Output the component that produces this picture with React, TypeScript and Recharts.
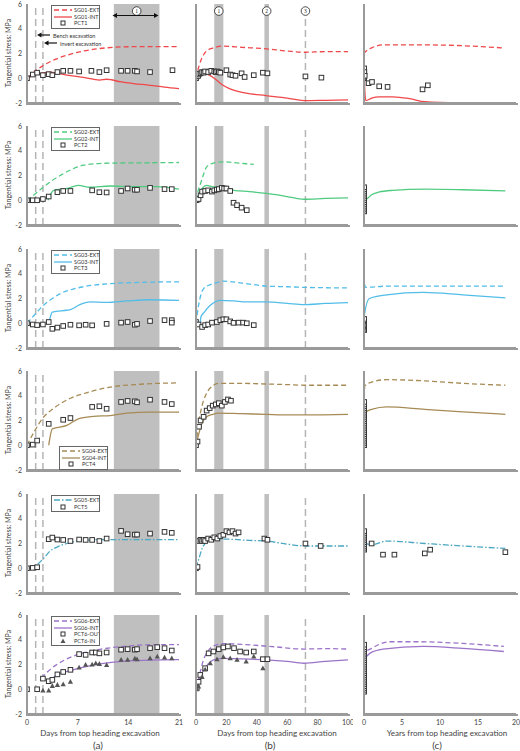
import React from 'react'
import {
  ComposedChart,
  Line,
  Scatter,
  XAxis,
  YAxis,
  ReferenceArea,
  ReferenceLine,
  ReferenceDot,
} from 'recharts'

type P = [number, number]

// ---- column (a): days 0-21
const a_ext1: P[] = [[0,0],[1,0.5],[2.3,1.05],[4,1.55],[5.5,1.86],[7.8,2.2],[10,2.4],[14.7,2.55],[21,2.55]]
const a_int1: P[] = [[0,0],[1.5,0.35],[3.2,0.5],[5.5,0.25],[8,0.05],[10,-0.15],[11,-0.08],[13,-0.3],[14.7,-0.43],[17,-0.57],[19,-0.72],[21,-0.84]]
const a_pct1: P[] = [[0,0],[0.8,0.3],[1.4,0.45],[2.2,0.25],[3,0.33],[3.5,0.25],[4.2,0.5],[5,0.6],[6,0.6],[7.2,0.55],[8.9,0.6],[10,0.5],[11,0.65],[13,0.6],[13.9,0.6],[14.9,0.6],[15.2,0.55],[17,0.5],[20.1,0.65]]

const a_ext2: P[] = [[0,0],[1,0.45],[2.3,1.07],[3.5,1.6],[4.6,2.0],[6,2.45],[7.8,2.83],[9.5,2.95],[11.5,3.0],[15,3.02],[21,3.05]]
const a_int2: P[] = [[2.9,0],[3.1,0.3],[3.7,0.8],[5.5,0.95],[7.1,1.2],[8.7,1.05],[11.5,1.15],[14.7,1.1],[17.9,1.1],[21,0.9]]
const a_pct2: P[] = [[0,0],[0.8,0],[1.4,0],[2.2,0.1],[3,0.3],[4.2,0.65],[5,0.75],[6,0.75],[9,0.8],[10,0.65],[11,0.63],[13,0.75],[13.9,0.95],[14.9,0.85],[15.2,0.85],[17,1.0],[19,0.9],[20,0.9]]

const a_ext3: P[] = [[0,0],[1,0.65],[2.3,1.46],[3.5,2.0],[4.6,2.4],[6,2.7],[7.8,2.95],[9.5,3.1],[11.5,3.2],[15.6,3.3],[21,3.35]]
const a_int3: P[] = [[2.9,0],[3.0,0.1],[3.5,0.9],[5.5,1.05],[6,1.1],[7.3,1.5],[8.7,1.72],[11,1.68],[13.8,1.8],[17,1.9],[21,1.85]]
const a_pct3: P[] = [[0,0],[0.8,-0.1],[1.4,-0.15],[2.2,-0.1],[3,0.1],[3.5,-0.45],[4.2,-0.35],[5,-0.22],[6,-0.12],[7.2,-0.17],[8.1,-0.12],[9,-0.17],[11,-0.05],[13,0.05],[13.9,0.1],[14.9,-0.12],[15.2,-0.05],[17,0.18],[19,0.25],[20,0.25],[20,0.05]]

const a_ext4: P[] = [[0,0],[1,1.1],[2.3,2.28],[3.5,2.9],[4.6,3.36],[6,3.8],[7.8,4.17],[9.5,4.45],[11.5,4.7],[15.6,4.93],[21,5.04]]
const a_int4: P[] = [[3,0],[3.5,1.33],[5.5,1.6],[7.1,2.14],[9.2,2.33],[11.5,2.4],[13.8,2.6],[17,2.68],[21,2.68]]
const a_pct4: P[] = [[0,0],[0.8,0.05],[1.4,0.38],[3,1.73],[5,2.06],[6,2.2],[9,3.1],[10,3.15],[11,2.95],[13,3.5],[13.9,3.58],[14.9,3.55],[15.2,3.47],[17,3.68],[19,3.5],[20,3.33]]

const a_ext5: P[] = [[0,0],[1.4,0.3],[2.3,0.8],[3.2,1.4],[4.3,1.75],[5.5,2.0],[7.8,2.26],[11,2.32],[21,2.32]]
const a_pct5: P[] = [[0,0],[0.8,0.03],[1.4,0.08],[3,2.35],[3.5,2.48],[4.2,2.32],[5,2.29],[6,2.2],[7.2,2.32],[8.1,2.29],[9,2.29],[10,2.2],[11,2.4],[13,3.02],[13.9,2.75],[14.9,2.72],[15.2,2.72],[17,2.8],[19,2.94],[20,2.86]]

const a_ext6: P[] = [[2,0.9],[3,1.5],[4,1.95],[5,2.3],[7,2.8],[9,3.1],[11.5,3.35],[14,3.5],[17,3.6],[21,3.6]]
const a_int6: P[] = [[3,0.6],[4,1.1],[6,1.5],[8,1.8],[10,2.05],[12,2.2],[14,2.3],[17,2.35],[21,2.4]]
const a_out6: P[] = [[0,0],[1.4,0],[2.2,0.86],[3,0.65],[3.5,0.76],[4.2,1.2],[5,1.4],[6,1.57],[7.2,2.84],[8.1,2.78],[9,2.97],[9.5,2.97],[10,2.9],[11,2.97],[13,3.2],[13.9,3.24],[14.9,3.2],[15.2,3.24],[17,3.32],[18,3.4],[19,3.32],[20,3.13]]
const a_in6: P[] = [[2.2,-0.1],[3,-0.1],[3.5,0.27],[4.2,0.35],[5,0.4],[6,0.6],[7.2,1.75],[8.1,1.97],[9,2.0],[9.5,2.1],[10,2.05],[11,1.95],[13,2.38],[13.9,2.38],[14.9,2.48],[15.2,2.43],[17,2.5],[18,2.65],[19,2.57],[20,2.5]]

// ---- column (b): days 0-100
const b_ext1: P[] = [[0,0],[2,1.0],[5,1.9],[8,2.3],[11.5,2.45],[18,2.6],[30,2.5],[44,2.4],[60,2.2],[71,2.1],[85,2.15],[100,2.15]]
const b_int1: P[] = [[0,0.3],[3,0.5],[7,0.35],[12,0],[17,-0.5],[22,-0.84],[33,-1.2],[46,-1.4],[60,-1.6],[71,-1.8],[85,-1.78],[100,-1.75]]
const b_pct1: P[] = [[0,0],[0.5,0.15],[1,0.3],[1.5,0.2],[2,0.35],[3,0.4],[4,0.5],[5,0.45],[6,0.55],[8,0.5],[10,0.6],[12,0.55],[13,0.5],[14,0.55],[15,0.5],[16,0.45],[20,0.65],[22.5,0.3],[24,0.25],[26,0.2],[30,0.4],[32,0.1],[38,0.25],[44,0.45],[47,0.4],[72,0.15],[82.5,0.05]]

const b_ext2: P[] = [[0,0],[1.5,0.8],[3,1.35],[5,2.1],[7,2.7],[11.5,3.0],[18,3.1],[28,3.0],[38,2.9]]
const b_int2: P[] = [[0,0],[2,0.5],[4,0.95],[7,1.2],[11.5,1.08],[18,1.08],[25,0.8],[35,0.7],[46.5,0.55],[60,0.3],[71,0.08],[85,0.15],[100,0.2]]
const b_pct2: P[] = [[0,0],[1,0.05],[1.7,0.1],[3,0.4],[4,0.7],[6,0.75],[8,0.8],[10.5,0.7],[12,0.8],[13.7,0.86],[15,0.9],[17,1.0],[18.5,0.95],[20,0.95],[22.5,0.75],[24.7,-0.2],[27,-0.4],[30,-0.6],[33.4,-0.8]]

const b_ext3: P[] = [[0,0],[1.7,1.45],[3,2.2],[5,2.8],[8,3.05],[11.5,3.2],[18,3.4],[30,3.25],[46.5,3.0],[60,2.95],[71,2.9],[85,2.87],[100,2.85]]
const b_int3: P[] = [[2.8,0],[3.2,0.5],[5.5,0.9],[9.4,1.45],[16,1.85],[25,1.8],[33,1.72],[46.5,1.72],[60,1.6],[71,1.5],[85,1.6],[100,1.67]]
const b_pct3: P[] = [[0,0.1],[1.7,-0.1],[4,-0.3],[6,-0.15],[8,-0.1],[10.5,0.05],[13.7,0.1],[16,0.25],[18,0.32],[20,0.32],[22.5,0.15],[24.7,0.03],[28,0.05],[31,0.05],[33.4,0],[38,-0.15]]

const b_ext4: P[] = [[0,0],[2,2.0],[4,3.2],[7,4.2],[11,4.8],[15,5.0],[30,5.0],[46,4.95],[60,4.9],[72,4.85],[100,4.85]]
const b_int4: P[] = [[0,0],[2,1.0],[4,1.8],[7,2.3],[11,2.5],[15,2.6],[30,2.55],[46,2.5],[60,2.45],[72,2.45],[100,2.5]]
const b_pct4: P[] = [[0,0],[1,0.3],[2,1.5],[3,2.0],[5,2.3],[7,2.8],[9,3.0],[11,3.2],[13,3.3],[15,3.4],[17,3.2],[19,3.5],[21,3.7],[23,3.6]]

const b_ext5: P[] = [[0,0],[2,0.8],[4,1.6],[7,2.1],[10,2.3],[20,2.35],[35,2.25],[46,2.2],[60,1.95],[72,1.8],[100,1.8]]
const b_pct5: P[] = [[0,0],[1,0.1],[2,2.2],[3,2.3],[4,2.2],[5,2.3],[6,2.2],[8,2.4],[10,2.3],[12,2.5],[14,2.4],[16,2.6],[18,2.7],[20,3.0],[22,2.9],[24,3.0],[26,2.8],[28,2.9],[45,2.4],[47,2.3],[72,2.0],[82,1.8]]

const b_ext6: P[] = [[0,0],[2,1.0],[5,2.4],[8,3.1],[11.5,3.5],[18,3.68],[33,3.6],[50,3.45],[71,3.25],[85,3.28],[100,3.25]]
const b_int6: P[] = [[0,0],[2,0.7],[5,1.57],[8,2.05],[11.5,2.38],[18,2.5],[30,2.45],[46.5,2.38],[60,2.25],[71,2.1],[85,2.25],[100,2.38]]
const b_out6: P[] = [[0.5,0.1],[1.7,0.6],[2.8,1.16],[6,1.7],[8.3,2.9],[11.5,3.05],[15,3.24],[18,3.38],[21,3.46],[25,3.32],[29,3.05],[33,2.97],[38,3.05],[44,2.43],[47,2.43]]
const b_in6: P[] = [[0.5,0],[1.7,0.22],[4,1.0],[6,1.6],[9.4,2.1],[13.8,2.43],[18,2.6],[22.5,2.5],[27,2.38],[33,2.24],[38,2.65],[44,1.7]]

// ---- column (c): years 0-20
const c_ext1: P[] = [[0,0],[0.03,2.0],[0.3,2.2],[1,2.45],[2.5,2.7],[7,2.7],[12,2.65],[18.4,2.45]]
const c_int1: P[] = [[0,0.3],[0.03,0.4],[0.1,-1.0],[0.25,-1.8],[1,-1.6],[2,-1.5],[3.8,-1.5],[6,-1.65],[8,-1.9],[12.6,-2.0]]
const c_pct1: P[] = [[0.02,0],[0.02,0.1],[0.02,0.2],[0.02,0.3],[0.02,0.4],[0.02,0.5],[0.02,0.6],[0.02,0.7],[0.02,0.8],[0.05,0.5],[0.1,0.2],[0.6,-0.4],[1.05,-0.3],[2,-0.65],[3.1,-0.7],[7.7,-0.9],[8.4,-0.57]]

const c_ext2: P[] = [[0,0],[0.01,2.0],[0.03,3.0],[0.1,2.9]]
const c_int2: P[] = [[0,0],[0.02,1.0],[0.1,0.3],[0.3,0.1],[1,0.45],[2,0.67],[3.8,0.8],[8,0.9],[13,0.85],[18.6,0.75]]
const c_pct2: P[] = [[0.02,-0.9],[0.02,-0.75],[0.02,-0.6],[0.02,-0.45],[0.02,-0.3],[0.02,-0.15],[0.02,0],[0.02,0.15],[0.02,0.3],[0.02,0.45],[0.02,0.6],[0.02,0.75],[0.02,0.9],[0.02,1.05]]

const c_ext3: P[] = [[0,0],[0.01,2.0],[0.03,3.2],[0.2,2.9],[3,3.0],[10,3.0],[18.6,3.0]]
const c_int3: P[] = [[0,0],[0.05,0.65],[0.7,2.0],[3,2.3],[7.8,2.5],[13,2.3],[18.6,2.05]]
const c_pct3: P[] = [[0.02,-0.55],[0.02,-0.45],[0.02,-0.35],[0.02,-0.25],[0.02,-0.15],[0.02,-0.05],[0.02,0.05],[0.02,0.15],[0.02,0.25],[0.02,0.35]]

const c_ext4: P[] = [[0,0],[0.02,3.0],[0.1,4.8],[1,5.1],[3,5.3],[8,5.2],[13,5.0],[18.6,4.85]]
const c_int4: P[] = [[0,0],[0.05,2.0],[0.3,2.7],[1,2.9],[3,3.1],[8,2.9],[13,2.7],[18.6,2.5]]
const c_pct4: P[] = [[0.02,0],[0.02,0.15],[0.02,0.3],[0.02,0.45],[0.02,0.6],[0.02,0.75],[0.02,0.9],[0.02,1.05],[0.02,1.2],[0.02,1.35],[0.02,1.5],[0.02,1.65],[0.02,1.8],[0.02,1.95],[0.02,2.1],[0.02,2.25],[0.02,2.4],[0.02,2.55],[0.02,2.7],[0.02,2.85],[0.02,3.0],[0.02,3.15],[0.02,3.3],[0.02,3.5]]

const c_ext5: P[] = [[0,0],[0.1,2.0],[1,1.9],[3,2.2],[8,2.0],[13,1.8],[18.6,1.6]]
const c_pct5: P[] = [[0.02,1.5],[0.02,1.65],[0.02,1.8],[0.02,1.95],[0.02,2.1],[0.02,2.25],[0.02,2.4],[0.02,2.55],[0.02,2.7],[0.02,2.85],[0.02,3.0],[1,2.0],[2.5,1.1],[4,1.1],[8,1.2],[8.7,1.5],[18.6,1.3]]

const c_ext6: P[] = [[0,0],[0.05,2.9],[1,3.3],[3.4,3.84],[7,3.84],[13,3.7],[18.4,3.46]]
const c_int6: P[] = [[0,0],[0.05,2.3],[0.75,2.9],[2.5,3.24],[7.8,3.46],[13,3.3],[18.4,3.05]]
const c_pct6: P[] = [[0.02,-0.2],[0.02,-0.05],[0.02,0.1],[0.02,0.25],[0.02,0.4],[0.02,0.55],[0.02,0.7],[0.02,0.85],[0.02,1.0],[0.02,1.15],[0.02,1.3],[0.02,1.45],[0.02,1.6],[0.02,1.75],[0.02,1.9],[0.02,2.05],[0.02,2.2],[0.02,2.35],[0.02,2.5],[0.02,2.65],[0.02,2.8],[0.02,2.95],[0.02,3.1],[0.02,3.25],[0.02,3.4],[0.02,3.6]]

const xTicksA = [0, 7, 14, 21]
const xTicksB = [0, 20, 40, 60, 80, 100]
const xTicksC = [0, 5, 10, 15, 20]
const yTicks = [-2, 0, 2, 4, 6]

const RED = '#f0474a'
const GREEN = '#4fcb80'
const CYAN = '#52bde8'
const BROWN = '#a68b55'
const TEAL = '#4aa7c2'
const PURPLE = '#9b73c9'
const AXIS = '#9a9a9a'

const ROW_TOPS = [4, 126, 249, 371, 494, 615]
const PLOT_W = 152
const PLOT_H = 99
const AX_W = 26
const PAD_R = 5
const PAD_T = 5

const COLS = [
  { left: 27, domain: [0, 21], ticks: xTicksA, bands: [[12, 18.3]], vlines: [1.2, 2.2] },
  { left: 196, domain: [0, 100], ticks: xTicksB, bands: [[12, 18], [45, 48]], vlines: [72] },
  { left: 364, domain: [0, 20], ticks: xTicksC, bands: [], vlines: [] },
]

type Series = { pts: P[]; kind: 'ext' | 'int' | 'dashdot' | 'sq' | 'tri'; color?: string }

const toRows = (pts: P[]) => pts.map(([x, y]) => ({ x, y }))

const GRID: Series[][][] = [
  [
    [{ pts: a_ext1, kind: 'ext', color: RED }, { pts: a_int1, kind: 'int', color: RED }, { pts: a_pct1, kind: 'sq' }],
    [{ pts: b_ext1, kind: 'ext', color: RED }, { pts: b_int1, kind: 'int', color: RED }, { pts: b_pct1, kind: 'sq' }],
    [{ pts: c_ext1, kind: 'ext', color: RED }, { pts: c_int1, kind: 'int', color: RED }, { pts: c_pct1, kind: 'sq' }],
  ],
  [
    [{ pts: a_ext2, kind: 'ext', color: GREEN }, { pts: a_int2, kind: 'int', color: GREEN }, { pts: a_pct2, kind: 'sq' }],
    [{ pts: b_ext2, kind: 'ext', color: GREEN }, { pts: b_int2, kind: 'int', color: GREEN }, { pts: b_pct2, kind: 'sq' }],
    [{ pts: c_ext2, kind: 'ext', color: GREEN }, { pts: c_int2, kind: 'int', color: GREEN }, { pts: c_pct2, kind: 'sq' }],
  ],
  [
    [{ pts: a_ext3, kind: 'ext', color: CYAN }, { pts: a_int3, kind: 'int', color: CYAN }, { pts: a_pct3, kind: 'sq' }],
    [{ pts: b_ext3, kind: 'ext', color: CYAN }, { pts: b_int3, kind: 'int', color: CYAN }, { pts: b_pct3, kind: 'sq' }],
    [{ pts: c_ext3, kind: 'ext', color: CYAN }, { pts: c_int3, kind: 'int', color: CYAN }, { pts: c_pct3, kind: 'sq' }],
  ],
  [
    [{ pts: a_ext4, kind: 'ext', color: BROWN }, { pts: a_int4, kind: 'int', color: BROWN }, { pts: a_pct4, kind: 'sq' }],
    [{ pts: b_ext4, kind: 'ext', color: BROWN }, { pts: b_int4, kind: 'int', color: BROWN }, { pts: b_pct4, kind: 'sq' }],
    [{ pts: c_ext4, kind: 'ext', color: BROWN }, { pts: c_int4, kind: 'int', color: BROWN }, { pts: c_pct4, kind: 'sq' }],
  ],
  [
    [{ pts: a_ext5, kind: 'dashdot', color: TEAL }, { pts: a_pct5, kind: 'sq' }],
    [{ pts: b_ext5, kind: 'dashdot', color: TEAL }, { pts: b_pct5, kind: 'sq' }],
    [{ pts: c_ext5, kind: 'dashdot', color: TEAL }, { pts: c_pct5, kind: 'sq' }],
  ],
  [
    [{ pts: a_ext6, kind: 'ext', color: PURPLE }, { pts: a_int6, kind: 'int', color: PURPLE }, { pts: a_out6, kind: 'sq' }, { pts: a_in6, kind: 'tri' }],
    [{ pts: b_ext6, kind: 'ext', color: PURPLE }, { pts: b_int6, kind: 'int', color: PURPLE }, { pts: b_out6, kind: 'sq' }, { pts: b_in6, kind: 'tri' }],
    [{ pts: c_ext6, kind: 'ext', color: PURPLE }, { pts: c_int6, kind: 'int', color: PURPLE }, { pts: c_pct6, kind: 'sq' }],
  ],
]

const LEGENDS = [
  { left: 51, top: 5, items: [['SG01-EXT', 'ext', RED], ['SG01-INT', 'int', RED], ['PCT1', 'sq', '#333']] },
  { left: 51, top: 127, items: [['SG02-EXT', 'ext', GREEN], ['SG02-INT', 'int', GREEN], ['PCT2', 'sq', '#333']] },
  { left: 51, top: 250, items: [['SG03-EXT', 'ext', CYAN], ['SG03-INT', 'int', CYAN], ['PCT3', 'sq', '#333']] },
  { left: 59, top: 446, items: [['SG04-EXT', 'ext', BROWN], ['SG04-INT', 'int', BROWN], ['PCT4', 'sq', '#333']] },
  { left: 51, top: 495, items: [['SG05-EXT', 'dashdot', TEAL], ['PCT5', 'sq', '#333']] },
  { left: 51, top: 616, items: [['SG06-EXT', 'ext', PURPLE], ['SG06-INT', 'int', PURPLE], ['PCT6-OUT', 'sq', '#333'], ['PCT6-IN', 'tri', '#444']] },
]

const FONT = 'Lato, "Open Sans", sans-serif'

const dashOf = (kind: string) => (kind === 'ext' ? '5 3' : kind === 'dashdot' ? '6 2 1.5 2' : undefined)

const SquareDot = (props: any) => {
  const { cx, cy } = props
  if (cx == null || cy == null) return <g />
  return <rect x={cx - 2.3} y={cy - 2.3} width={4.6} height={4.6} fill="#fff" stroke="#333" strokeWidth={1} />
}

const TriDot = (props: any) => {
  const { cx, cy } = props
  if (cx == null || cy == null) return <g />
  return <polygon points={`${cx},${cy - 2.8} ${cx - 2.6},${cy + 2} ${cx + 2.6},${cy + 2}`} fill="#555" />
}

function Panel({ row, col }: { row: number; col: number }) {
  const c = COLS[col]
  const bottom = row === 5
  const xh = bottom ? 14 : 4
  const series = GRID[row][col]
  const showY = col === 0
  return (
    <div style={{ position: 'absolute', left: c.left - AX_W, top: ROW_TOPS[row] - PAD_T }}>
      <ComposedChart
        width={PLOT_W + AX_W + PAD_R}
        height={PLOT_H + PAD_T + xh}
        margin={{ top: PAD_T, right: PAD_R, bottom: 0, left: 0 }}
      >
        <XAxis
          type="number"
          dataKey="x"
          domain={c.domain}
          ticks={c.ticks}
          interval={0}
          allowDataOverflow
          height={xh}
          tickLine={false}
          stroke={AXIS}
          axisLine={{ stroke: AXIS, strokeWidth: 2 }}
          tick={
            bottom
              ? (p: any) => (
                  <text x={p.x} y={PAD_T + PLOT_H + 10.5} textAnchor="middle" fontSize={7} fill="#444" fontFamily={FONT}>
                    {p.payload.value}
                  </text>
                )
              : false
          }
        />
        <YAxis
          type="number"
          dataKey="y"
          domain={[-2, 6]}
          ticks={yTicks}
          interval={0}
          allowDataOverflow
          width={AX_W}
          tickLine={false}
          stroke={AXIS}
          axisLine={{ stroke: AXIS, strokeWidth: 2 }}
          tick={
            showY
              ? (p: any) => (
                  <text x={AX_W - 5} y={p.y + 2.5} textAnchor="end" fontSize={7} fill="#444" fontFamily={FONT}>
                    {p.payload.value}
                  </text>
                )
              : false
          }
        />
        {c.bands.map(([x1, x2], i) => (
          <ReferenceArea key={'b' + i} x1={x1} x2={x2} y1={-2} y2={6} fill="#bfbfbf" fillOpacity={1} stroke="none" />
        ))}
        {c.vlines.map((v, i) => (
          <ReferenceLine key={'v' + i} x={v} stroke="#b5b5b5" strokeWidth={1.5} strokeDasharray="7 4" />
        ))}
        <ReferenceLine x={c.domain[0]} stroke={AXIS} strokeWidth={2} ifOverflow="visible" />
        <ReferenceLine y={-2} stroke={AXIS} strokeWidth={2} ifOverflow="visible" />
        {row === 0 && col === 1 &&
          [15, 46.5, 72].map((v, i) => (
            <ReferenceDot
              key={'c' + i}
              x={v}
              y={5.43}
              r={4.3}
              fill="#fff"
              stroke="#222"
              strokeWidth={0.8}
              label={{ value: String(i + 1), fontSize: 5.5, fill: '#222', position: 'center' }}
            />
          ))}
        {row === 0 && col === 0 && (
          <ReferenceDot
            x={15.15}
            y={5.43}
            r={4.3}
            fill="#fff"
            stroke="#222"
            strokeWidth={0.8}
            label={{ value: '1', fontSize: 5.5, fill: '#222', position: 'center' }}
          />
        )}
        {series.map((s, i) =>
          s.kind === 'sq' || s.kind === 'tri' ? (
            <Scatter
              key={i}
              data={toRows(s.pts)}
              dataKey="y"
              shape={s.kind === 'sq' ? SquareDot : TriDot}
              isAnimationActive={false}
            />
          ) : (
            <Line
              key={i}
              data={toRows(s.pts)}
              dataKey="y"
              type="monotone"
              stroke={s.color}
              strokeWidth={1.3}
              strokeDasharray={dashOf(s.kind)}
              dot={false}
              isAnimationActive={false}
            />
          )
        )}
      </ComposedChart>
      {/* axis frame fallback, same place as the axis lines */}
      <div
        style={{
          position: 'absolute',
          left: AX_W - 1,
          top: PAD_T,
          width: PLOT_W + 1,
          height: PLOT_H,
          borderLeft: `2px solid ${AXIS}`,
          borderBottom: `2px solid ${AXIS}`,
          boxSizing: 'content-box',
          marginBottom: -1,
          pointerEvents: 'none',
        }}
      />
    </div>
  )
}

function LegendBox({ left, top, items }: { left: number; top: number; items: string[][] }) {
  return (
    <div
      style={{
        position: 'absolute',
        left,
        top,
        width: 49,
        boxSizing: 'border-box',
        border: '1px solid #666',
        background: '#fff',
        padding: '1px 0',
        fontFamily: FONT,
        fontSize: 5.5,
        color: '#333',
        lineHeight: '6.5px',
        whiteSpace: 'nowrap',
        overflow: 'hidden',
      }}
    >
      {items.map(([label, kind, color]) => (
        <div key={label} style={{ display: 'flex', alignItems: 'center', height: 6.5 }}>
          <svg width={18} height={6} style={{ marginLeft: 2, marginRight: 2, flex: 'none' }}>
            {kind === 'sq' ? (
              <rect x={7} y={1} width={4} height={4} fill="#fff" stroke="#333" strokeWidth={1} />
            ) : kind === 'tri' ? (
              <polygon points="9,0.5 6.5,5 11.5,5" fill="#555" />
            ) : (
              <line x1={0} y1={3} x2={18} y2={3} stroke={color} strokeWidth={1.3} strokeDasharray={dashOf(kind)} />
            )}
          </svg>
          <span>{label}</span>
        </div>
      ))}
    </div>
  )
}

export default function App() {
  const textStyle: React.CSSProperties = { position: 'absolute', fontFamily: FONT, color: '#444', whiteSpace: 'nowrap' }
  return (
    <div style={{ position: 'absolute', left: 0, top: 0, width: 520, height: 751, background: '#fff', overflow: 'hidden' }}>
      {ROW_TOPS.map((_, r) => COLS.map((_c, ci) => <Panel key={r + '-' + ci} row={r} col={ci} />))}
      {ROW_TOPS.map((t, r) => (
        <div
          key={'yl' + r}
          style={{
            ...textStyle,
            fontSize: 7,
            left: 8 - 50,
            top: t + PLOT_H / 2 - 5,
            width: 100,
            textAlign: 'center',
            transform: 'rotate(-90deg)',
          }}
        >
          Tangential stress: MPa
        </div>
      ))}
      {LEGENDS.map((l, i) => (
        <LegendBox key={i} left={l.left} top={l.top} items={l.items as string[][]} />
      ))}
      {/* row 1 annotations */}
      <svg width={520} height={60} style={{ position: 'absolute', left: 0, top: 0 }}>
        <line x1={50} y1={35} x2={40} y2={35} stroke="#111" strokeWidth={1.2} />
        <polygon points="37,35 41.5,32.5 41.5,37.5" fill="#111" />
        <line x1={57} y1={43} x2={47} y2={43} stroke="#111" strokeWidth={1.2} />
        <polygon points="44,43 48.5,40.5 48.5,45.5" fill="#111" />
        <line x1={116} y1={15.5} x2={155} y2={15.5} stroke="#111" strokeWidth={1.2} />
        <polygon points="112.5,15.5 117,13 117,18" fill="#111" />
        <polygon points="158.5,15.5 154,13 154,18" fill="#111" />
        <text x={53} y={38} fontSize={5.5} fill="#333" fontFamily={FONT}>Bench excavation</text>
        <text x={60} y={46} fontSize={5.5} fill="#333" fontFamily={FONT}>Invert excavation</text>
      </svg>
      <div style={{ ...textStyle, fontSize: 8, left: 100 - 70, width: 140, textAlign: 'center', top: 728 }}>
        Days from top heading excavation
      </div>
      <div style={{ ...textStyle, fontSize: 8, left: 277 - 70, width: 140, textAlign: 'center', top: 728 }}>
        Days from top heading excavation
      </div>
      <div style={{ ...textStyle, fontSize: 8, left: 447 - 70, width: 140, textAlign: 'center', top: 728 }}>
        Years from top heading excavation
      </div>
      <div style={{ ...textStyle, fontSize: 10, left: 98 - 20, width: 40, textAlign: 'center', top: 739 }}>(a)</div>
      <div style={{ ...textStyle, fontSize: 10, left: 270 - 20, width: 40, textAlign: 'center', top: 739 }}>(b)</div>
      <div style={{ ...textStyle, fontSize: 10, left: 437 - 20, width: 40, textAlign: 'center', top: 739 }}>(c)</div>
    </div>
  )
}
